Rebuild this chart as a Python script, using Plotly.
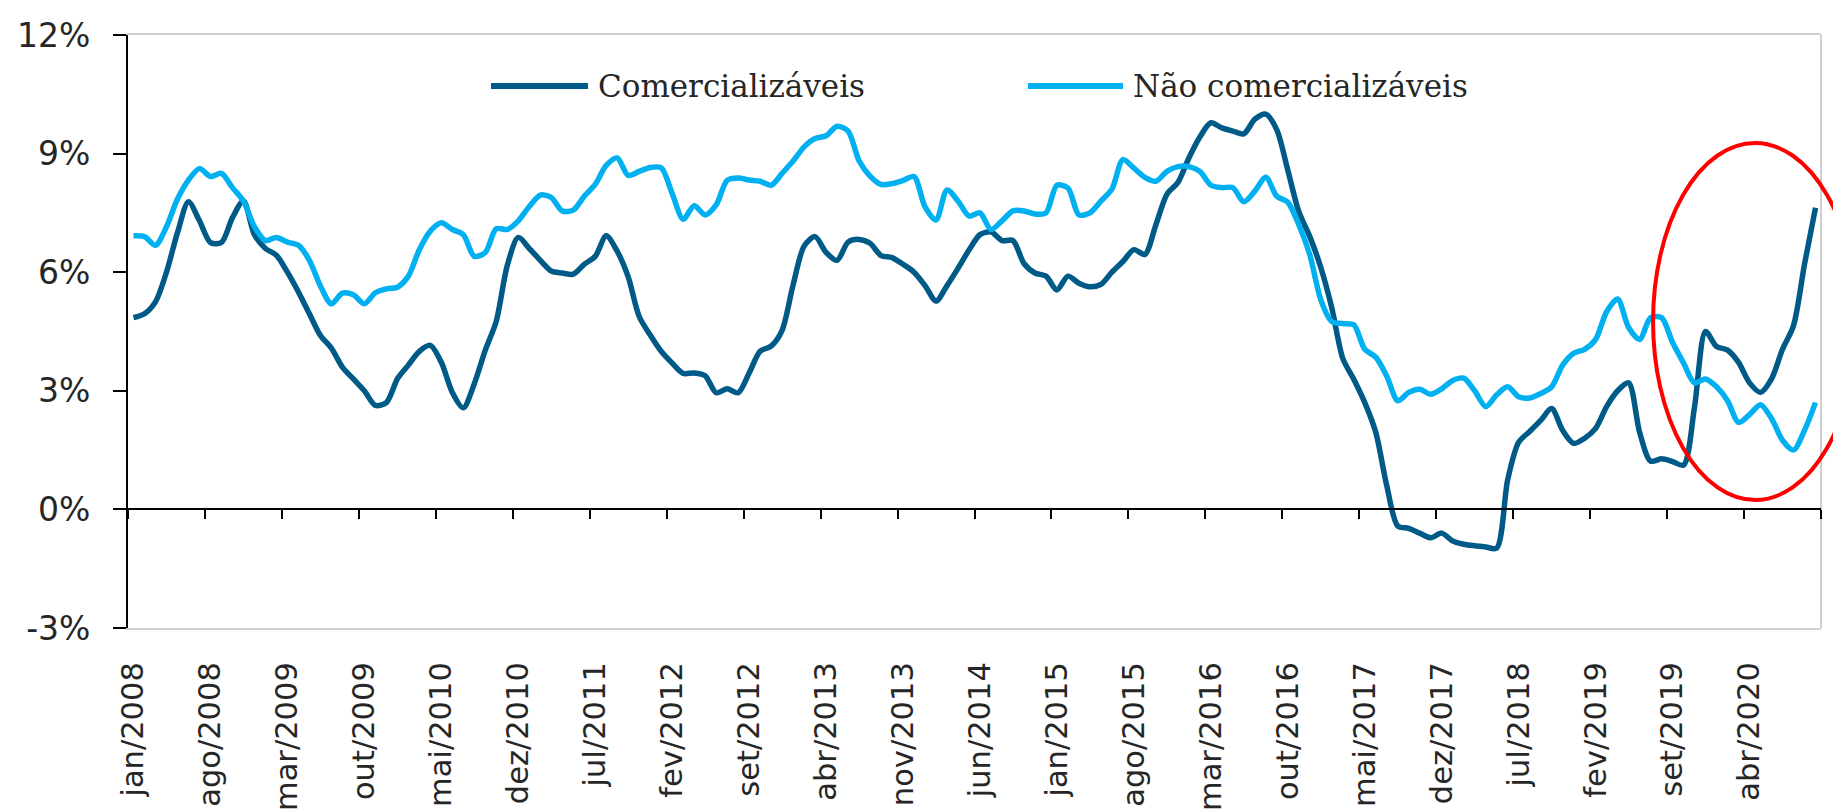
import plotly.graph_objects as go

# ---- data (monthly, jan/2008 .. out/2020), % a.a. ----
comercializaveis = [
    4.85, 4.95, 5.25, 6.0, 7.0, 7.78, 7.3, 6.75, 6.75, 7.38,
    7.8, 6.95, 6.6, 6.43, 6.0, 5.5, 4.95, 4.4, 4.08, 3.6,
    3.3, 3.0, 2.63, 2.7, 3.3, 3.65, 4.0, 4.15, 3.72, 2.96,
    2.57, 3.18, 4.03, 4.76, 6.17, 6.88, 6.6, 6.3, 6.03, 5.98,
    5.95, 6.2, 6.4, 6.92, 6.53, 5.88, 4.88, 4.41, 4.0, 3.7,
    3.44, 3.45, 3.38, 2.95, 3.05, 2.95, 3.45, 4.0, 4.13, 4.53,
    5.68, 6.66, 6.9, 6.5, 6.3, 6.76, 6.83, 6.73, 6.42, 6.37,
    6.2, 6.0, 5.66, 5.27, 5.66, 6.1, 6.56, 6.95, 7.02, 6.8,
    6.8, 6.22, 5.98, 5.9, 5.55, 5.9, 5.72, 5.63, 5.69, 6.0,
    6.27, 6.57, 6.45, 7.2, 7.97, 8.27, 8.89, 9.42, 9.78, 9.65,
    9.57, 9.5, 9.87, 10.0, 9.6, 8.58, 7.53, 6.9, 6.12, 5.1,
    3.82, 3.29, 2.7, 1.95, 0.6, -0.42, -0.48, -0.6, -0.72, -0.6,
    -0.8, -0.88, -0.92, -0.95, -0.98, 0.75, 1.7, 1.97, 2.25, 2.55,
    2.0, 1.67, 1.8, 2.05, 2.6, 3.0, 3.2, 1.95, 1.22, 1.28,
    1.21, 1.12, 2.6, 4.5, 4.12, 4.03, 3.72, 3.2, 2.96, 3.3,
    4.05, 4.65, 6.2, 7.63,
]
nao_comercializaveis = [
    6.92, 6.9, 6.68, 7.15, 7.85, 8.33, 8.62, 8.42, 8.5, 8.14,
    7.8, 7.15, 6.8, 6.88, 6.76, 6.68, 6.3, 5.65, 5.2, 5.47,
    5.43, 5.2, 5.48, 5.58, 5.62, 5.9, 6.57, 7.04, 7.25, 7.08,
    6.95, 6.4, 6.5, 7.1, 7.08, 7.3, 7.66, 7.95, 7.89, 7.55,
    7.57, 7.92, 8.22, 8.7, 8.89, 8.45, 8.55, 8.65, 8.64, 7.99,
    7.34, 7.68, 7.45, 7.7, 8.32, 8.38, 8.33, 8.3, 8.2, 8.5,
    8.81, 9.17, 9.38, 9.45, 9.69, 9.57, 8.82, 8.43, 8.22, 8.24,
    8.32, 8.42, 7.65, 7.32, 8.08, 7.8, 7.42, 7.5, 7.08, 7.3,
    7.55, 7.55, 7.47, 7.5, 8.2, 8.13, 7.45, 7.5, 7.8, 8.1,
    8.85, 8.63, 8.4, 8.3, 8.55, 8.67, 8.67, 8.55, 8.2, 8.14,
    8.14, 7.78, 8.05, 8.4, 7.92, 7.77, 7.2, 6.44, 5.3, 4.75,
    4.7, 4.67, 4.05, 3.85, 3.37, 2.75, 2.96, 3.04, 2.91, 3.05,
    3.26, 3.32, 3.0, 2.6, 2.9, 3.1, 2.85, 2.82, 2.93, 3.1,
    3.65, 3.95, 4.05, 4.3, 5.0, 5.32, 4.6, 4.3, 4.85, 4.85,
    4.22, 3.7, 3.2, 3.3, 3.1, 2.75, 2.2, 2.4, 2.65, 2.3,
    1.75, 1.5, 2.0, 2.7,
]
tick_labels = [
    "jan/2008", "ago/2008", "mar/2009", "out/2009", "mai/2010", "dez/2010",
    "jul/2011", "fev/2012", "set/2012", "abr/2013", "nov/2013", "jun/2014",
    "jan/2015", "ago/2015", "mar/2016", "out/2016", "mai/2017", "dez/2017",
    "jul/2018", "fev/2019", "set/2019", "abr/2020",
]
y_ticks = [-3, 0, 3, 6, 9, 12]
series_names = ["Comercializáveis", "Não comercializáveis"]
label_step = 7

n = len(comercializaveis)
months = list(range(n))
tickvals = [k * label_step for k in range(len(tick_labels))]
boundaries = [k * label_step - 0.5 for k in range(len(tick_labels) + 1)]
xrange = [-0.5, n - 0.5]
y_ticktext = [f"{v}%" for v in y_ticks]

DARK = "#005A87"
LIGHT = "#00B0F0"
TXT = "#262626"
GRAY = "#D0D0D0"

fig = go.Figure()
fig.add_trace(go.Scatter(
    x=months, y=comercializaveis, name=series_names[0], mode="lines",
    line=dict(color=DARK, width=5.5, shape="spline", smoothing=0.8),
    xaxis="x", yaxis="y", showlegend=False,
))
fig.add_trace(go.Scatter(
    x=months, y=nao_comercializaveis, name=series_names[1], mode="lines",
    line=dict(color=LIGHT, width=5.5, shape="spline", smoothing=0.8),
    xaxis="x2", yaxis="y", showlegend=False,
))

ymin, ymax = y_ticks[0], y_ticks[-1]
zero_pos = (0 - ymin) / (ymax - ymin)

fig.update_layout(
    width=1841, height=811,
    margin=dict(l=120, r=28, t=27, b=191),
    paper_bgcolor="white", plot_bgcolor="white",
    font=dict(family="DejaVu Sans", color=TXT),
    xaxis=dict(
        range=xrange, tickmode="array", tickvals=tickvals, ticktext=tick_labels,
        tickangle=-90, ticks="", showgrid=False, zeroline=False,
        showline=True, linecolor=GRAY, linewidth=2, mirror=True,
        tickfont=dict(family="DejaVu Sans", size=30.5, color=TXT),
        ticklabelstandoff=20, automargin=False,
    ),
    xaxis2=dict(
        range=xrange, overlaying="x", anchor="free", position=zero_pos,
        side="bottom", tickmode="array", tickvals=boundaries,
        showticklabels=False, ticks="outside", ticklen=9, tickwidth=2,
        tickcolor="black", showline=True, linecolor="black", linewidth=2,
        showgrid=False, zeroline=False, automargin=False,
    ),
    yaxis=dict(
        range=[ymin, ymax], tickmode="array", tickvals=y_ticks, ticktext=y_ticktext,
        ticks="outside", ticklen=13, tickwidth=2,
        tickcolor="black", showline=True, linecolor="black", linewidth=2,
        showgrid=False, zeroline=False,
        tickfont=dict(family="DejaVu Sans", size=33, color=TXT),
        ticklabelstandoff=16, automargin=False,
    ),
)

# plot-area border (right side) in light gray
fig.add_shape(type="line", xref="paper", yref="paper", x0=1, x1=1, y0=0, y1=1,
              line=dict(color=GRAY, width=2), layer="below")

# manual legend (long line samples, as in the original)
legend_y = 0.914
legend_items = [
    (series_names[0], DARK, 0.2144, 0.2717, 0.2764),
    (series_names[1], LIGHT, 0.5316, 0.5877, 0.5924),
]
for name, col, lx0, lx1, tx in legend_items:
    fig.add_shape(type="line", xref="paper", yref="paper",
                  x0=lx0, x1=lx1, y0=legend_y, y1=legend_y,
                  line=dict(color=col, width=6))
    fig.add_annotation(xref="paper", yref="paper", x=tx, y=legend_y,
                       text=name, showarrow=False, xanchor="left", yanchor="middle",
                       font=dict(family="DejaVu Serif", size=31, color=TXT))

# red highlight ellipse around the latest months
fig.add_shape(type="circle", xref="paper", yref="paper",
              x0=0.9008, x1=1.0213, y0=0.2159, y1=0.8179,
              line=dict(color="#FF0000", width=4))

fig.write_html("out.html")
